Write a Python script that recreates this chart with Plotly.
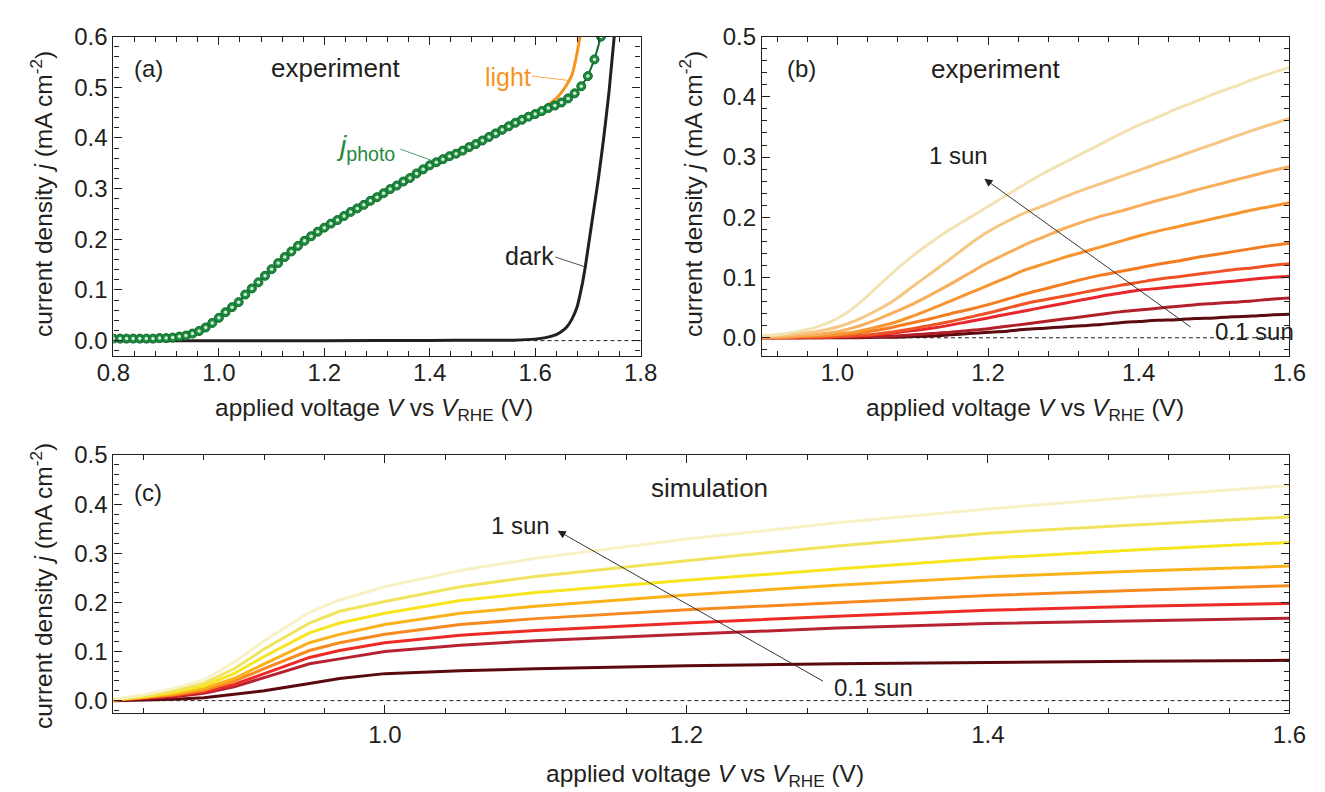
import plotly.graph_objects as go

W, H = 1325, 792
FONT = "Liberation Sans, Arial, Helvetica, sans-serif"
TXT = "#231f20"

# ---------------- panel (a) data ----------------
va_dark = [0.80, 1.00, 1.20, 1.40, 1.50, 1.56, 1.60, 1.62, 1.64, 1.65, 1.66, 1.67, 1.68, 1.685, 1.69, 1.695, 1.70, 1.71, 1.72, 1.73, 1.74, 1.75]
ja_dark = [0.0, 0.0, 0.0, 0.0005, 0.0008, 0.001, 0.003, 0.006, 0.012, 0.018, 0.027, 0.043, 0.068, 0.09, 0.115, 0.145, 0.18, 0.25, 0.32, 0.40, 0.49, 0.60]

va_light = [1.50, 1.55, 1.60, 1.62, 1.64, 1.65, 1.66, 1.67, 1.675, 1.68, 1.685]
ja_light = [0.398, 0.423, 0.448, 0.462, 0.478, 0.49, 0.505, 0.525, 0.545, 0.57, 0.60]

va_photo = [0.8000, 0.8125, 0.8250, 0.8375, 0.8500, 0.8625, 0.8750, 0.8875, 0.9000, 0.9125,
            0.9250, 0.9375, 0.9500, 0.9625, 0.9750, 0.9875, 1.0000, 1.0125, 1.0250, 1.0375,
            1.0500, 1.0625, 1.0750, 1.0875, 1.1000, 1.1125, 1.1250, 1.1375, 1.1500, 1.1625,
            1.1750, 1.1875, 1.2000, 1.2125, 1.2250, 1.2375, 1.2500, 1.2625, 1.2750, 1.2875,
            1.3000, 1.3125, 1.3250, 1.3375, 1.3500, 1.3625, 1.3750, 1.3875, 1.4000, 1.4125,
            1.4250, 1.4375, 1.4500, 1.4625, 1.4750, 1.4875, 1.5000, 1.5125, 1.5250, 1.5375,
            1.5500, 1.5625, 1.5750, 1.5875, 1.6000, 1.6125, 1.6250, 1.6375, 1.6500, 1.6625,
            1.6750, 1.6875, 1.7000, 1.7125, 1.7250]
ja_photo = [0.004, 0.004, 0.004, 0.004, 0.004, 0.004, 0.004, 0.005, 0.005, 0.006,
            0.008, 0.010, 0.014, 0.019, 0.026, 0.035, 0.045, 0.056, 0.066, 0.076,
            0.091, 0.103, 0.115, 0.128, 0.141, 0.153, 0.165, 0.176, 0.187, 0.197,
            0.206, 0.215, 0.223, 0.231, 0.238, 0.246, 0.254, 0.261, 0.268, 0.276,
            0.283, 0.291, 0.299, 0.306, 0.314, 0.321, 0.330, 0.338, 0.346, 0.352,
            0.358, 0.364, 0.369, 0.375, 0.382, 0.388, 0.395, 0.402, 0.409, 0.416,
            0.423, 0.430, 0.436, 0.442, 0.447, 0.453, 0.459, 0.464, 0.470, 0.478,
            0.488, 0.502, 0.522, 0.555, 0.600]

# ---------------- panel (b) data ----------------
vb = [0.900, 0.925, 0.950, 0.975, 1.000, 1.025, 1.050, 1.075, 1.100, 1.125,
      1.150, 1.175, 1.200, 1.225, 1.250, 1.275, 1.300, 1.325, 1.350, 1.375,
      1.400, 1.425, 1.450, 1.475, 1.500, 1.525, 1.550, 1.575, 1.600]
jb_1sun = [0.003, 0.006, 0.011, 0.019, 0.032, 0.053, 0.081, 0.110, 0.136, 0.159,
           0.180, 0.199, 0.218, 0.237, 0.256, 0.274, 0.290, 0.306, 0.322, 0.338,
           0.353, 0.366, 0.380, 0.392, 0.405, 0.416, 0.428, 0.439, 0.449]
jb_2 = [0.002, 0.004, 0.007, 0.011, 0.018, 0.029, 0.044, 0.062, 0.085, 0.108,
        0.131, 0.155, 0.176, 0.193, 0.208, 0.220, 0.233, 0.245, 0.256, 0.267,
        0.278, 0.289, 0.300, 0.311, 0.322, 0.333, 0.344, 0.354, 0.364]
jb_3 = [0.001, 0.002, 0.004, 0.006, 0.010, 0.018, 0.029, 0.042, 0.056, 0.072,
        0.089, 0.107, 0.125, 0.140, 0.155, 0.168, 0.181, 0.192, 0.202, 0.210,
        0.219, 0.228, 0.236, 0.245, 0.253, 0.261, 0.269, 0.277, 0.284]
jb_4 = [0.001, 0.001, 0.002, 0.004, 0.006, 0.010, 0.017, 0.025, 0.036, 0.048,
        0.061, 0.074, 0.087, 0.100, 0.113, 0.123, 0.133, 0.142, 0.151, 0.160,
        0.169, 0.177, 0.184, 0.191, 0.198, 0.205, 0.212, 0.218, 0.224]
jb_5 = [0.000, 0.001, 0.002, 0.003, 0.005, 0.008, 0.012, 0.018, 0.025, 0.032,
        0.040, 0.047, 0.055, 0.064, 0.073, 0.081, 0.089, 0.097, 0.104, 0.110,
        0.116, 0.122, 0.127, 0.133, 0.138, 0.143, 0.148, 0.153, 0.157]
jb_6 = [0.000, 0.000, 0.001, 0.001, 0.002, 0.004, 0.006, 0.010, 0.015, 0.021,
        0.027, 0.034, 0.041, 0.049, 0.057, 0.063, 0.069, 0.075, 0.081, 0.087,
        0.092, 0.097, 0.101, 0.105, 0.109, 0.113, 0.116, 0.120, 0.123]
jb_7 = [0.000, 0.000, 0.000, 0.001, 0.002, 0.003, 0.005, 0.008, 0.012, 0.016,
        0.021, 0.027, 0.033, 0.039, 0.045, 0.051, 0.057, 0.063, 0.069, 0.074,
        0.079, 0.082, 0.085, 0.088, 0.091, 0.094, 0.097, 0.100, 0.102]
jb_8 = [0.000, 0.000, 0.000, 0.000, 0.001, 0.001, 0.002, 0.003, 0.005, 0.007,
        0.009, 0.012, 0.015, 0.019, 0.023, 0.027, 0.031, 0.035, 0.039, 0.043,
        0.046, 0.049, 0.052, 0.055, 0.057, 0.059, 0.061, 0.064, 0.066]
jb_01sun = [0.000, 0.000, 0.000, 0.000, 0.000, 0.000, 0.001, 0.001, 0.002, 0.003,
            0.005, 0.007, 0.009, 0.011, 0.014, 0.016, 0.018, 0.020, 0.022, 0.025,
            0.027, 0.029, 0.030, 0.032, 0.033, 0.035, 0.036, 0.038, 0.039]
jb_series = [jb_01sun, jb_8, jb_7, jb_6, jb_5, jb_4, jb_3, jb_2, jb_1sun]
jb_colors = ["#5b0b10", "#b11f29", "#e8262b", "#ef5224", "#f47c20",
             "#f7962f", "#f8ae5c", "#f6c683", "#f2e3b3"]

# ---------------- panel (c) data ----------------
vc = [0.82, 0.84, 0.86, 0.88, 0.90, 0.92, 0.95, 0.97, 1.00, 1.05, 1.10, 1.20, 1.30, 1.40, 1.50, 1.60]
jc_1sun = [0.003, 0.012, 0.025, 0.042, 0.078, 0.122, 0.180, 0.205, 0.232, 0.265, 0.290, 0.329, 0.362, 0.390, 0.415, 0.438]
jc_2 = [0.002, 0.009, 0.020, 0.035, 0.065, 0.105, 0.158, 0.182, 0.202, 0.232, 0.253, 0.285, 0.315, 0.341, 0.358, 0.374]
jc_3 = [0.002, 0.008, 0.017, 0.030, 0.055, 0.090, 0.138, 0.158, 0.178, 0.204, 0.220, 0.245, 0.268, 0.290, 0.307, 0.322]
jc_4 = [0.002, 0.007, 0.014, 0.025, 0.045, 0.075, 0.118, 0.135, 0.155, 0.178, 0.192, 0.215, 0.235, 0.252, 0.264, 0.274]
jc_5 = [0.001, 0.006, 0.012, 0.021, 0.040, 0.065, 0.102, 0.118, 0.135, 0.155, 0.167, 0.185, 0.200, 0.214, 0.225, 0.234]
jc_6 = [0.001, 0.005, 0.010, 0.018, 0.033, 0.055, 0.088, 0.102, 0.118, 0.133, 0.143, 0.158, 0.172, 0.184, 0.192, 0.198]
jc_7 = [0.001, 0.004, 0.008, 0.015, 0.028, 0.047, 0.075, 0.085, 0.100, 0.113, 0.122, 0.135, 0.148, 0.157, 0.163, 0.168]
jc_01sun = [0.000, 0.001, 0.003, 0.006, 0.013, 0.020, 0.035, 0.045, 0.055, 0.061, 0.065, 0.071, 0.075, 0.078, 0.080, 0.082]
jc_series = [jc_01sun, jc_7, jc_6, jc_5, jc_4, jc_3, jc_2, jc_1sun]
jc_colors = ["#5a0a0f", "#b72232", "#ee2a26", "#f68a21", "#fbb21a",
             "#f7e51d", "#f1e45d", "#f8f1c6"]

# ---------------- figure ----------------
fig = go.Figure()

# panel a
fig.add_trace(go.Scatter(x=va_light, y=ja_light, mode="lines",
                         line=dict(color="#f7941d", width=3, shape="spline", smoothing=0.6),
                         xaxis="x", yaxis="y"))
fig.add_trace(go.Scatter(x=va_dark, y=ja_dark, mode="lines",
                         line=dict(color=TXT, width=3, shape="spline", smoothing=0.6),
                         xaxis="x", yaxis="y"))
fig.add_trace(go.Scatter(x=va_photo, y=ja_photo, mode="lines+markers",
                         line=dict(color="#0e6b2e", width=2),
                         marker=dict(size=9, color="#1f8a3e", line=dict(width=1, color="#0d6a2c")),
                         xaxis="x", yaxis="y"))
fig.add_trace(go.Scatter(x=va_photo, y=ja_photo, mode="markers",
                         marker=dict(size=3.5, color="#cfeed6"), xaxis="x", yaxis="y"))

# panel b
for jj, cc in zip(jb_series, jb_colors):
    fig.add_trace(go.Scatter(x=vb, y=jj, mode="lines",
                             line=dict(color=cc, width=3, shape="spline", smoothing=0.8),
                             xaxis="x2", yaxis="y2"))

# panel c
for jj, cc in zip(jc_series, jc_colors):
    fig.add_trace(go.Scatter(x=vc, y=jj, mode="lines", line=dict(color=cc, width=3),
                             xaxis="x3", yaxis="y3"))


def px_x(x0, x1):
    return [x0 / W, x1 / W]


def px_y(top, bottom):
    return [1 - bottom / H, 1 - top / H]


def axis(**kw):
    base = dict(showline=True, linecolor=TXT, linewidth=1.3, mirror="ticks",
                ticks="inside", ticklen=8, tickwidth=1.2, tickcolor=TXT,
                showgrid=False, zeroline=False, tickformat=".1f",
                tickfont=dict(size=24, color=TXT, family=FONT))
    base.update(kw)
    return base


def minor(dt, t0):
    return dict(ticks="inside", ticklen=5, tickwidth=1, tickcolor=TXT,
                showgrid=False, dtick=dt, tick0=t0)


fig.update_layout(
    width=W, height=H, margin=dict(l=0, r=0, t=0, b=0),
    paper_bgcolor="white", plot_bgcolor="white", showlegend=False,
    font=dict(family=FONT, color=TXT, size=24),
    xaxis=axis(domain=px_x(99, 640), range=[0.8, 1.8], dtick=0.2, tick0=0.8,
               minor=minor(0.04, 0.8), anchor="y", ticklabelstandoff=-5),
    yaxis=axis(domain=px_y(23, 348), range=[-0.03, 0.6], dtick=0.1, tick0=0,
               minor=minor(0.02, 0), anchor="x"),
    xaxis2=axis(domain=px_x(764.6, 1306), range=[0.9, 1.6], dtick=0.2, tick0=1.0,
                minor=minor(0.04, 1.0), anchor="y2", ticklabelstandoff=-5),
    yaxis2=axis(domain=px_y(23, 348), range=[-0.03, 0.5], dtick=0.1, tick0=0,
                minor=minor(0.02, 0), anchor="x2"),
    xaxis3=axis(domain=px_x(99, 1306), range=[0.82, 1.6], dtick=0.2, tick0=1.0,
                minor=minor(0.04, 1.0), anchor="y3"),
    yaxis3=axis(domain=px_y(449, 712), range=[-0.026, 0.5], dtick=0.1, tick0=0,
                minor=minor(0.02, 0), anchor="x3"),
)

# dashed zero lines
for xr, yr in [("x domain", "y"), ("x2 domain", "y2"), ("x3 domain", "y3")]:
    fig.add_shape(type="line", xref=xr, yref=yr, x0=0, x1=1, y0=0, y1=0,
                  line=dict(color=TXT, width=1, dash="4px,3px"), layer="below")

ann = []


def text(x, y, s, xr, yr, color=TXT, size=24, **kw):
    d = dict(x=x, y=y, text=s, xref=xr, yref=yr, showarrow=False,
             xanchor="center", yanchor="middle",
             font=dict(size=size, color=color, family=FONT))
    d.update(kw)
    ann.append(d)


def pointer(x, y, ax, ay, xr, yr, color=TXT, head=0, width=0.8, size=1.0):
    ann.append(dict(x=x, y=y, ax=ax, ay=ay, xref=xr, yref=yr, axref=xr, ayref=yr,
                    text="", showarrow=True, arrowhead=head, arrowsize=size,
                    arrowwidth=width, arrowcolor=color, standoff=0, startstandoff=0))


# panel a texts
text(0.8666, 0.538, "(a)", "x", "y")
text(1.2214, 0.538, "experiment", "x", "y", size=26)
text(1.5486, 0.52, "light", "x", "y", color="#f7941d", size=25)
pointer(1.667, 0.513, 1.591, 0.5225, "x", "y", color="#f7941d")
text(1.279, 0.381, "<i>j</i><sub>photo</sub>", "x", "y", color="#1e8b3d", size=28)
pointer(1.408, 0.354, 1.3416, 0.379, "x", "y", color="#1e8b3d")
text(1.589, 0.168, "dark", "x", "y", size=25)
pointer(1.6965, 0.145, 1.6355, 0.166, "x", "y")

# panel b texts
text(0.952, 0.447, "(b)", "x2", "y2")
text(1.21, 0.447, "experiment", "x2", "y2", size=26)
text(1.161, 0.302, "1 sun", "x2", "y2")
text(1.553, 0.011, "0.1 sun", "x2", "y2")
pointer(1.195, 0.264, 1.471, 0.016, "x2", "y2", head=2, width=0.9, size=1.8)

# panel c texts
text(0.8426, 0.424, "(c)", "x3", "y3")
text(1.215, 0.432, "simulation", "x3", "y3", size=26)
text(1.090, 0.356, "1 sun", "x3", "y3")
text(1.324, 0.026, "0.1 sun", "x3", "y3")
pointer(1.1146, 0.346, 1.2916, 0.038, "x3", "y3", head=2, width=0.9, size=1.8)

# axis titles
XT = "applied voltage <i>V</i> vs <i>V</i><sub>RHE</sub> (V)"
YT = "current density <i>j</i> (mA cm<sup>-2</sup>)"
text(366 / W, 1 - 403 / H, XT, "paper", "paper", size=24.5)
text(1035 / W, 1 - 403 / H, XT, "paper", "paper", size=24.5)
text(706 / W, 1 - 775 / H, XT, "paper", "paper", size=24.5)
text(25 / W, 1 - 183 / H, YT, "paper", "paper", textangle=-90, size=24.5)
text(692 / W, 1 - 183 / H, YT, "paper", "paper", textangle=-90, size=24.5)
text(25 / W, 1 - 582 / H, YT, "paper", "paper", textangle=-90, size=24.5)

fig.update_layout(annotations=ann)
fig.write_html("out.html")
